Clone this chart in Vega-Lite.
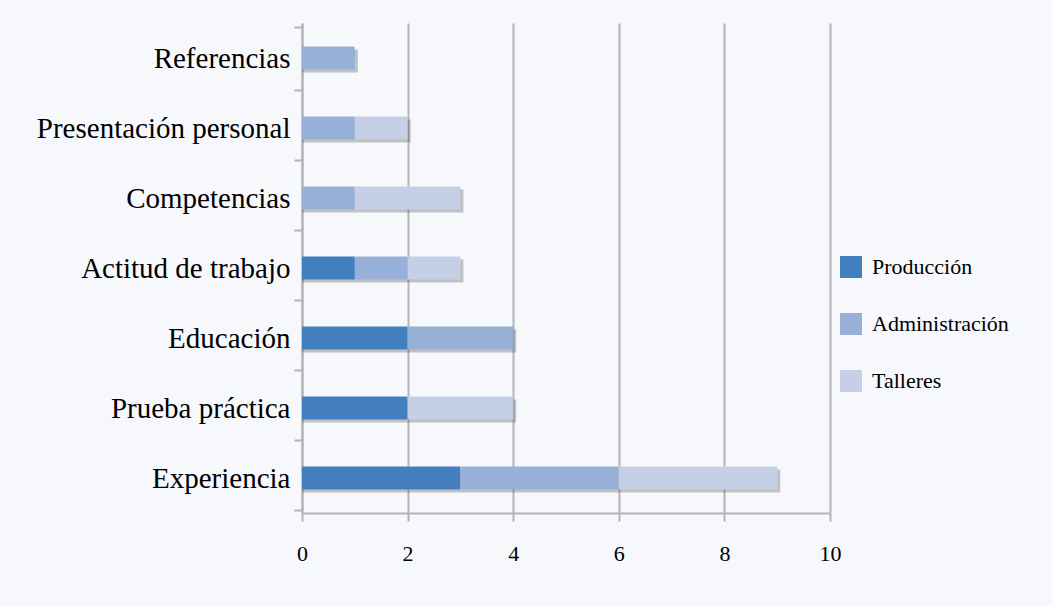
{
  "$schema": "https://vega.github.io/schema/vega-lite/v6.json",
  "autosize": "none",
  "width": 528,
  "height": 490,
  "padding": {"left": 302, "top": 23, "right": 222, "bottom": 93},
  "background": "#f6f8fc",
  "data": {
    "values": [
      {"categoria": "Referencias", "area": "Administración", "valor": 1},
      {"categoria": "Presentación personal", "area": "Administración", "valor": 1},
      {"categoria": "Presentación personal", "area": "Talleres", "valor": 1},
      {"categoria": "Competencias", "area": "Administración", "valor": 1},
      {"categoria": "Competencias", "area": "Talleres", "valor": 2},
      {"categoria": "Actitud de trabajo", "area": "Producción", "valor": 1},
      {"categoria": "Actitud de trabajo", "area": "Administración", "valor": 1},
      {"categoria": "Actitud de trabajo", "area": "Talleres", "valor": 1},
      {"categoria": "Educación", "area": "Producción", "valor": 2},
      {"categoria": "Educación", "area": "Administración", "valor": 2},
      {"categoria": "Prueba práctica", "area": "Producción", "valor": 2},
      {"categoria": "Prueba práctica", "area": "Talleres", "valor": 2},
      {"categoria": "Experiencia", "area": "Producción", "valor": 3},
      {"categoria": "Experiencia", "area": "Administración", "valor": 3},
      {"categoria": "Experiencia", "area": "Talleres", "valor": 3}
    ]
  },
  "transform": [
    {"calculate": "indexof(['Producción', 'Administración', 'Talleres'], datum.area)", "as": "orden_area"}
  ],
  "encoding": {
    "y": {
      "field": "categoria",
      "type": "nominal",
      "sort": ["Referencias", "Presentación personal", "Competencias", "Actitud de trabajo", "Educación", "Prueba práctica", "Experiencia"],
      "title": null,
      "axis": {
        "tickBand": "extent",
        "tickSize": 8,
        "tickColor": "#b4b4b4",
        "tickWidth": 2,
        "domainColor": "#b4b4b4",
        "domainWidth": 2,
        "labelFont": "Liberation Serif",
        "labelFontSize": 29,
        "labelColor": "#000000",
        "labelPadding": 4,
        "labelLimit": 0,
        "grid": false
      }
    }
  },
  "layer": [
    {
      "mark": {"type": "bar", "size": 23, "color": "#4d4d4d", "opacity": 0.32, "xOffset": 3, "yOffset": 3},
      "encoding": {
        "x": {"aggregate": "sum", "field": "valor", "type": "quantitative"}
      }
    },
    {
      "mark": {"type": "bar", "size": 23},
      "encoding": {
        "x": {
          "field": "valor",
          "type": "quantitative",
          "stack": "zero",
          "scale": {"domain": [0, 10]},
          "title": null,
          "axis": {
            "values": [0, 2, 4, 6, 8, 10],
            "tickSize": 8,
            "tickColor": "#b4b4b4",
            "tickWidth": 2,
            "domainColor": "#b4b4b4",
            "domainWidth": 2,
            "grid": true,
            "gridColor": "#b4b4b4",
            "gridWidth": 2,
            "labelFont": "Liberation Serif",
            "labelFontSize": 22,
            "labelColor": "#000000",
            "labelPadding": 22,
            "labelFlush": false
          }
        },
        "order": {"field": "orden_area", "type": "quantitative", "sort": "ascending"},
        "color": {
          "field": "area",
          "type": "nominal",
          "sort": ["Producción", "Administración", "Talleres"],
          "scale": {
            "domain": ["Producción", "Administración", "Talleres"],
            "range": ["#437ebf", "#97b0d8", "#c5d0e7"]
          },
          "legend": {
            "title": null,
            "orient": "none",
            "legendX": 538,
            "legendY": 233,
            "padding": 0,
            "symbolType": "square",
            "symbolSize": 484,
            "symbolStrokeWidth": 0,
            "symbolOpacity": 1,
            "labelFont": "Liberation Serif",
            "labelFontSize": 22,
            "labelColor": "#000000",
            "labelOffset": 10,
            "rowPadding": 35
          }
        }
      }
    }
  ],
  "config": {
    "view": {"stroke": null}
  }
}
